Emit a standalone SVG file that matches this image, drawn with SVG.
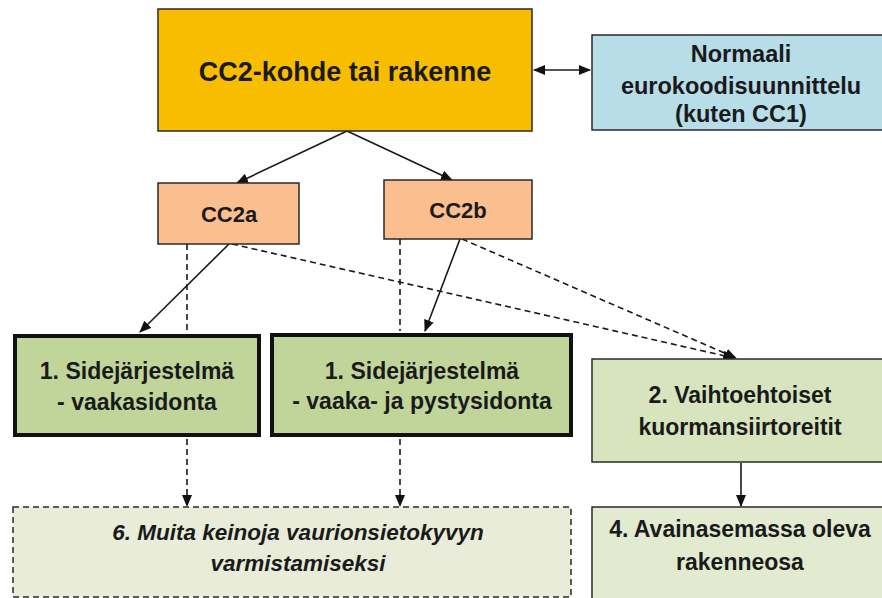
<svg xmlns="http://www.w3.org/2000/svg" width="882" height="598" viewBox="0 0 882 598">
<style>
text{font-family:"Liberation Sans",Arial,sans-serif;font-weight:bold;fill:#1a1a1a;text-anchor:middle}
.box{stroke:#2a2a2a;stroke-width:1.5}
.thick{stroke:#111;stroke-width:4}
.solid{stroke:#1a1a1a;stroke-width:1.6;fill:none}
.dash{stroke:#1a1a1a;stroke-width:1.6;fill:none;stroke-dasharray:6,4}
</style>
<defs>
<marker id="ah" markerWidth="12" markerHeight="10" refX="11" refY="5" orient="auto" markerUnits="userSpaceOnUse">
<path d="M0,0 L12,5 L0,10 Z" fill="#111"/>
</marker>
<marker id="ahs" markerWidth="12" markerHeight="10" refX="1" refY="5" orient="auto" markerUnits="userSpaceOnUse">
<path d="M12,0 L0,5 L12,10 Z" fill="#111"/>
</marker>
</defs>
<rect width="882" height="598" fill="#ffffff"/>

<g id="connectors">
<line class="solid" x1="534" y1="70" x2="590" y2="70" marker-start="url(#ahs)" marker-end="url(#ah)"/>
<line class="solid" x1="347" y1="131" x2="237" y2="183" marker-end="url(#ah)"/>
<line class="solid" x1="347" y1="131" x2="452" y2="180" marker-end="url(#ah)"/>
<line class="solid" x1="229" y1="244" x2="140" y2="332" marker-end="url(#ah)"/>
<line class="solid" x1="460" y1="239" x2="425" y2="331" marker-end="url(#ah)"/>
<line class="dash" x1="187" y1="244" x2="187" y2="332"/>
<line class="dash" x1="400" y1="239" x2="400" y2="331"/>
<line class="dash" x1="187" y1="439" x2="187" y2="506" marker-end="url(#ah)"/>
<line class="dash" x1="400" y1="439" x2="400" y2="506" marker-end="url(#ah)"/>
<line class="dash" x1="232" y1="244" x2="734" y2="358" marker-end="url(#ah)"/>
<line class="dash" x1="462" y1="239" x2="736" y2="358" marker-end="url(#ah)"/>
<line class="solid" x1="741" y1="463" x2="741" y2="506" marker-end="url(#ah)"/>
</g>

<g id="cc2">
<rect class="box" x="158" y="9" width="374" height="122" fill="#f9bd00"/>
<text x="345" y="81" font-size="27">CC2-kohde tai rakenne</text>
</g>

<g id="normaali">
<rect class="box" x="592" y="35" width="300" height="95" fill="#b7dde8"/>
<text x="741" y="62" font-size="23.5">Normaali</text>
<text x="741" y="94" font-size="23.5">eurokoodisuunnittelu</text>
<text x="741" y="122" font-size="23.5">(kuten CC1)</text>
</g>

<g id="cc2a">
<rect class="box" x="158" y="183" width="141" height="61" fill="#fbbf8f"/>
<text x="229" y="222" font-size="22">CC2a</text>
</g>

<g id="cc2b">
<rect class="box" x="384" y="180" width="148" height="59" fill="#fbbf8f"/>
<text x="458" y="218" font-size="22">CC2b</text>
</g>

<g id="side1">
<rect class="thick" x="15" y="336" width="244" height="99" fill="#c1d59a"/>
<text x="137" y="379" font-size="23">1. Sidejärjestelmä</text>
<text x="137" y="410" font-size="23">- vaakasidonta</text>
</g>

<g id="side2">
<rect class="thick" x="272" y="335" width="299" height="100" fill="#c1d59a"/>
<text x="422" y="379" font-size="23">1. Sidejärjestelmä</text>
<text x="422" y="409" font-size="23">- vaaka- ja pystysidonta</text>
</g>

<g id="vaihto">
<rect class="box" x="592" y="359" width="300" height="103" fill="#d7e4bd"/>
<text x="740" y="403" font-size="23">2. Vaihtoehtoiset</text>
<text x="740" y="435" font-size="23">kuormansiirtoreitit</text>
</g>

<g id="muita">
<rect x="13" y="507" width="558" height="90" fill="#e8ecd8" stroke="#2a2a2a" stroke-width="1.5" stroke-dasharray="6,4"/>
<text x="298" y="540" font-size="22.5" font-style="italic">6. Muita keinoja vaurionsietokyvyn</text>
<text x="298" y="571" font-size="22.5" font-style="italic">varmistamiseksi</text>
</g>

<g id="avain">
<rect class="box" x="592" y="507" width="300" height="100" fill="#e2ead0"/>
<text x="740" y="537" font-size="23">4. Avainasemassa oleva</text>
<text x="740" y="570" font-size="23">rakenneosa</text>
</g>
</svg>
